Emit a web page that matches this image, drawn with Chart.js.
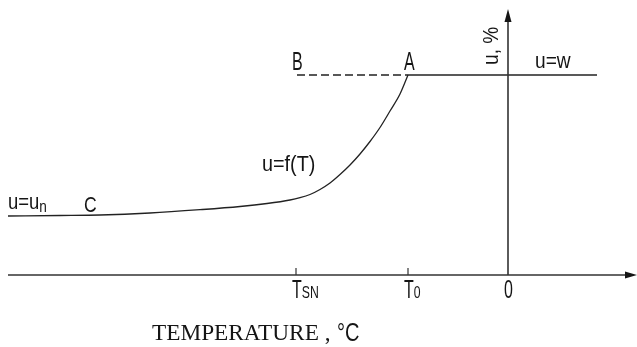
<!DOCTYPE html>
<html>
<head>
<meta charset="utf-8">
<script src="https://cdn.jsdelivr.net/npm/chart.js@4/dist/chart.umd.min.js"></script>
<style>
body { margin: 0; background: #fff; }
#wrap { width: 637px; height: 347px; position: relative; }
</style>
</head>
<body>
<div id="wrap"><canvas id="moistChart"></canvas></div>
<script>
// curve u = f(T), temperature in arbitrary units (0 at the vertical axis)
var curveT = [-500, -448, -408, -358, -308, -268, -241, -218, -208, -198, -188, -178, -168, -158, -148, -138, -128, -118, -108, -100];
var curveU = [59, 59.5, 60, 62, 65.3, 68.5, 71.5, 75, 77.3, 80.5, 85.5, 92, 100.5, 110, 121, 133.5, 147.5, 164, 181, 200];
var tSN = -212, t0 = -100, tB = -211, tEnd = 89;
var uW = 200, uN = 59;
var tickT = [tSN, t0, 0];
var tickMain = ["T", "T", "0"];
var tickSub = ["SN", "0", ""];

var ink = '#222';

function pts(xs, ys) {
  return xs.map(function (x, i) { return { x: x, y: ys[i] }; });
}

function txt(ctx, s, x, y, size, sx, fam) {
  ctx.save();
  ctx.translate(x, y);
  ctx.scale(sx, 1);
  ctx.font = size + 'px ' + (fam || '"Liberation Sans", Arial, sans-serif');
  ctx.fillText(s, 0, 0);
  var w = ctx.measureText(s).width * sx;
  ctx.restore();
  return w;
}

var axesPlugin = {
  id: 'axesPlugin',
  afterDraw: function (chart) {
    var ctx = chart.ctx, xs = chart.scales.x, ys = chart.scales.y;
    var x0 = xs.getPixelForValue(0), y0 = ys.getPixelForValue(0);
    ctx.save();
    ctx.strokeStyle = '#333';
    ctx.fillStyle = '#151515';
    ctx.lineWidth = 1.6;
    // horizontal axis
    ctx.beginPath();
    ctx.moveTo(8, y0); ctx.lineTo(630, y0); ctx.stroke();
    ctx.beginPath();
    ctx.moveTo(637, y0); ctx.lineTo(625, y0 - 3.5); ctx.lineTo(625, y0 + 3.5); ctx.closePath(); ctx.fill();
    // vertical axis
    ctx.beginPath();
    ctx.moveTo(x0, y0); ctx.lineTo(x0, 18); ctx.stroke();
    ctx.beginPath();
    ctx.moveTo(x0, 9); ctx.lineTo(x0 - 3.5, 22); ctx.lineTo(x0 + 3.5, 22); ctx.closePath(); ctx.fill();
    // ticks
    ctx.lineWidth = 1.2;
    tickT.forEach(function (t, i) {
      var px = xs.getPixelForValue(t);
      if (t !== 0) {
        ctx.beginPath(); ctx.moveTo(px, y0 - 7); ctx.lineTo(px, y0); ctx.stroke();
      }
      var w = txt(ctx, tickMain[i], px - 4, 298, 25, 0.64);
      if (tickSub[i]) txt(ctx, tickSub[i], px - 4 + w, 298, 17, 0.72);
    });
    // labels
    var yW = ys.getPixelForValue(uW), yN = ys.getPixelForValue(uN);
    txt(ctx, 'B', xs.getPixelForValue(tB) - 5, yW - 5, 25, 0.64);
    txt(ctx, 'A', xs.getPixelForValue(t0) - 4, yW - 5, 25, 0.64);
    txt(ctx, 'u=w', 535, yW - 7, 22, 0.87);
    var w1 = txt(ctx, 'u=u', 8, yN - 7, 22, 0.84);
    txt(ctx, 'n', 8 + w1, yN - 4, 16, 0.85);
    txt(ctx, 'C', 84, yN - 4, 22, 0.8);
    txt(ctx, 'u=f(T)', 262, 171, 22, 0.9);
    ctx.save();
    ctx.translate(x0 - 10, 65);
    ctx.rotate(-Math.PI / 2);
    txt(ctx, 'u, %', 0, 0, 22, 0.87);
    ctx.restore();
    txt(ctx, 'TEMPERATURE ,', 152, 340, 24, 0.97, '"Liberation Serif", "Times New Roman", serif');
    txt(ctx, '\u00B0C', 337, 341, 25, 0.8);
    ctx.restore();
  }
};

new Chart(document.getElementById('moistChart').getContext('2d'), {
  type: 'scatter',
  data: {
    datasets: [{
      label: 'u=f(T)',
      data: pts(curveT, curveU),
      showLine: true,
      borderColor: ink,
      borderWidth: 1.3,
      pointRadius: 0,
      cubicInterpolationMode: 'monotone',
      clip: false
    }, {
      label: 'B-A',
      data: pts([tB, t0], [uW, uW]),
      showLine: true,
      borderColor: ink,
      borderWidth: 1.3,
      borderDash: [8, 4],
      pointRadius: 0,
      clip: false
    }, {
      label: 'u=w',
      data: pts([t0, tEnd], [uW, uW]),
      showLine: true,
      borderColor: ink,
      borderWidth: 1.3,
      pointRadius: 0,
      clip: false
    }]
  },
  options: {
    responsive: true,
    maintainAspectRatio: false,
    animation: false,
    layout: { padding: 0 },
    plugins: { legend: { display: false }, tooltip: { enabled: false } },
    scales: {
      x: { type: 'linear', min: -508, max: 129, display: false },
      y: { type: 'linear', min: -72, max: 275, display: false }
    }
  },
  plugins: [axesPlugin]
});
</script>
</body>
</html>
